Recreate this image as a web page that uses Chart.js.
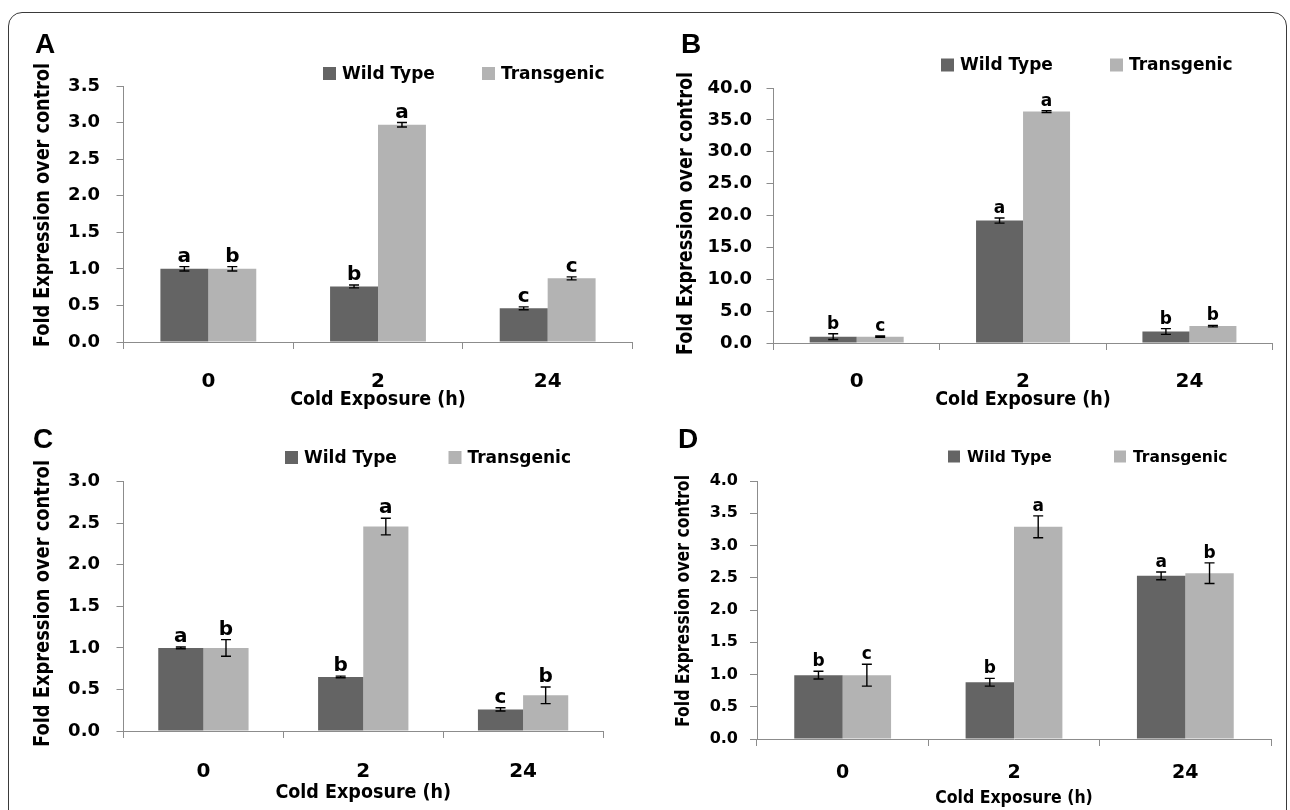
<!DOCTYPE html>
<html>
<head>
<meta charset="utf-8">
<script src="https://cdn.jsdelivr.net/npm/chart.js@4.4.1/dist/chart.umd.min.js"></script>
<style>
html,body{margin:0;padding:0;background:#fff;overflow:hidden;width:1290px;height:810px;}
#frame{position:absolute;left:8px;top:12px;width:1279px;height:840px;border:1.6px solid #3a3a3a;border-radius:14px;box-sizing:border-box;}
canvas{position:absolute;}
</style>
</head>
<body>
<div id="frame"></div>
<canvas id="cA"></canvas>
<canvas id="cB"></canvas>
<canvas id="cC"></canvas>
<canvas id="cD"></canvas>
<script>
const categories = ['0', '2', '24'];
const seriesNames = ['Wild Type', 'Transgenic'];
const yTitle = 'Fold Expression over control';
const xTitle = 'Cold Exposure (h)';

// panel A
const wildA = [1.00, 0.76, 0.46];
const wildErrA = [0.03, 0.02, 0.02];
const transA = [1.00, 2.97, 0.87];
const transErrA = [0.03, 0.03, 0.02];
const wildLetA = ['a', 'b', 'c'];
const transLetA = ['b', 'a', 'c'];
const yMaxA = 3.5, yStepA = 0.5;

// panel B
const wildB = [1.0, 19.2, 1.8];
const wildErrB = [0.45, 0.4, 0.45];
const transB = [1.0, 36.3, 2.65];
const transErrB = [0.1, 0.15, 0.12];
const wildLetB = ['b', 'a', 'b'];
const transLetB = ['c', 'a', 'b'];
const yMaxB = 40, yStepB = 5;

// panel C
const wildC = [1.00, 0.65, 0.26];
const wildErrC = [0.01, 0.01, 0.02];
const transC = [1.00, 2.46, 0.43];
const transErrC = [0.10, 0.10, 0.10];
const wildLetC = ['a', 'b', 'c'];
const transLetC = ['b', 'a', 'b'];
const yMaxC = 3.0, yStepC = 0.5;

// panel D
const wildD = [0.99, 0.88, 2.53];
const wildErrD = [0.06, 0.06, 0.06];
const transD = [0.99, 3.29, 2.57];
const transErrD = [0.17, 0.17, 0.16];
const wildLetD = ['b', 'b', 'a'];
const transLetD = ['c', 'a', 'b'];
const yMaxD = 4.0, yStepD = 0.5;

const WILD = '#646464', TRANS = '#b3b3b3', AXIS = '#8c8c8c', INK = '#000';
const SANS = '"DejaVu Sans", sans-serif';
const COND = '"DejaVu Sans Condensed", "DejaVu Sans", sans-serif';

// layout of each panel in page pixels
const panels = [
  {id:'cA', name:'A', box:[12,15,628,405], plot:[123.5,86,632.5,342],
   wild:wildA, wildErr:wildErrA, trans:transA, transErr:transErrA, wildLet:wildLetA, transLet:transLetA,
   yMax:yMaxA, yStep:yStepA, yTickSize:18, yTickPad:16.5, xTickSize:20, xTickCy:382, xTitleSize:19.5, xTitleCy:400,
   yt:{cx:43, cy:205, size:22, len:284}, legend:{cy:73.5, x:[323,482], size:17, sq:13}, label:{x:35, y:53}, letterSize:20},
  {id:'cB', name:'B', box:[650,15,630,405], plot:[773.5,88,1272.6,343],
   wild:wildB, wildErr:wildErrB, trans:transB, transErr:transErrB, wildLet:wildLetB, transLet:transLetB,
   yMax:yMaxB, yStep:yStepB, yTickSize:18, yTickPad:14.5, xTickSize:20, xTickCy:382, xTitleSize:19.5, xTitleCy:400,
   yt:{cx:686, cy:213.5, size:22, len:283}, legend:{cy:65, x:[941,1110], size:17, sq:13}, label:{x:681, y:53}, letterSize:17},
  {id:'cC', name:'C', box:[12,415,628,395], plot:[123.5,481.7,603,731],
   wild:wildC, wildErr:wildErrC, trans:transC, transErr:transErrC, wildLet:wildLetC, transLet:transLetC,
   yMax:yMaxC, yStep:yStepC, yTickSize:18, yTickPad:16.5, xTickSize:20, xTickCy:772, xTitleSize:19.5, xTitleCy:793,
   yt:{cx:43, cy:603.5, size:22, len:287}, legend:{cy:457.5, x:[285,448.5], size:17, sq:13}, label:{x:33, y:448}, letterSize:20},
  {id:'cD', name:'D', box:[650,415,630,395], plot:[757,481,1271,739],
   wild:wildD, wildErr:wildErrD, trans:transD, transErr:transErrD, wildLet:wildLetD, transLet:transLetD,
   yMax:yMaxD, yStep:yStepD, yTickSize:16, yTickPad:12, xTickSize:19, xTickCy:773, xTitleSize:17.5, xTitleCy:798,
   yt:{cx:684, cy:601, size:19.5, len:252}, legend:{cy:456.5, x:[948,1114], size:15.5, sq:12}, label:{x:678, y:448}, letterSize:17}
];

const extras = {
  id: 'extras',
  afterDatasetsDraw(chart) {
    const p = chart.options.plugins.extras.panel;
    const ox = p.box[0], oy = p.box[1];
    const ctx = chart.ctx, y = chart.scales.y;
    ctx.save();
    // error bars + significance letters
    chart.data.datasets.forEach((ds, i) => {
      chart.getDatasetMeta(i).data.forEach((bar, j) => {
        const top = y.getPixelForValue(ds.data[j] + ds.errors[j]);
        const bot = y.getPixelForValue(ds.data[j] - ds.errors[j]);
        ctx.strokeStyle = INK; ctx.lineWidth = 1.4;
        ctx.beginPath();
        ctx.moveTo(bar.x, top); ctx.lineTo(bar.x, bot);
        ctx.moveTo(bar.x - 5, top); ctx.lineTo(bar.x + 5, top);
        ctx.moveTo(bar.x - 5, bot); ctx.lineTo(bar.x + 5, bot);
        ctx.stroke();
        ctx.fillStyle = INK;
        ctx.font = 'bold ' + p.letterSize + 'px ' + SANS;
        ctx.textAlign = 'center'; ctx.textBaseline = 'alphabetic';
        ctx.fillText(ds.letters[j], bar.x, top - 5);
      });
    });
    // legend
    const lg = p.legend;
    chart.data.datasets.forEach((ds, i) => {
      const sx = lg.x[i] - ox, cy = lg.cy - oy;
      ctx.fillStyle = ds.backgroundColor;
      ctx.fillRect(sx, cy - lg.sq / 2, lg.sq, lg.sq);
      ctx.fillStyle = INK;
      ctx.font = 'bold ' + lg.size + 'px ' + SANS;
      ctx.textAlign = 'left'; ctx.textBaseline = 'middle';
      ctx.fillText(ds.label, sx + 19, cy + 1);
    });
    // panel letter
    ctx.font = 'bold 28px "Liberation Sans", Arial, sans-serif';
    ctx.textAlign = 'left'; ctx.textBaseline = 'alphabetic';
    ctx.fillText(p.name, p.label.x - ox, p.label.y - oy);
    // y axis title, squeezed along its length like the original
    ctx.translate(p.yt.cx - ox, p.yt.cy - oy);
    ctx.rotate(-Math.PI / 2);
    ctx.font = 'bold ' + p.yt.size + 'px ' + COND;
    const k = p.yt.len / ctx.measureText(yTitle).width;
    ctx.scale(Math.min(k, 1), 1);
    ctx.textAlign = 'center'; ctx.textBaseline = 'middle';
    ctx.fillText(yTitle, 0, 0);
    ctx.restore();
  }
};

panels.forEach(p => {
  const [bx, by, bw, bh] = p.box;
  const [L, T, R, B] = p.plot;
  const cv = document.getElementById(p.id);
  cv.width = bw; cv.height = bh;
  cv.style.left = bx + 'px'; cv.style.top = by + 'px';
  cv.style.width = bw + 'px'; cv.style.height = bh + 'px';
  const YW = 80;
  const xTitleLh = p.xTitleSize * 1.2;
  const XH = p.xTitleCy - B + xTitleLh / 2;
  const xTickPad = p.xTickCy - B - 7 - p.xTickSize * 0.6;
  new Chart(cv, {
    type: 'bar',
    data: {
      labels: categories,
      datasets: [
        {label: seriesNames[0], data: p.wild, errors: p.wildErr, letters: p.wildLet, backgroundColor: WILD,
         categoryPercentage: 0.565, barPercentage: 1.0, borderWidth: 0},
        {label: seriesNames[1], data: p.trans, errors: p.transErr, letters: p.transLet, backgroundColor: TRANS,
         categoryPercentage: 0.565, barPercentage: 1.0, borderWidth: 0}
      ]
    },
    options: {
      responsive: false,
      animation: false,
      layout: {padding: {left: L - YW - bx, top: T - by, right: bx + bw - R, bottom: by + bh - B - XH}},
      plugins: {legend: {display: false}, tooltip: {enabled: false}, extras: {panel: p}},
      scales: {
        x: {
          afterFit: s => { s.height = XH; },
          grid: {drawOnChartArea: false, tickLength: 7, color: AXIS, lineWidth: 1},
          border: {color: AXIS, width: 1},
          ticks: {color: INK, padding: xTickPad, font: {family: SANS, size: p.xTickSize, weight: 'bold', lineHeight: 1.2}},
          title: {display: true, text: xTitle, color: INK, padding: 0,
                  font: {family: COND, size: p.xTitleSize, weight: 'bold', lineHeight: 1.2}}
        },
        y: {
          min: 0, max: p.yMax,
          afterFit: s => { s.width = YW; },
          grid: {drawOnChartArea: false, tickLength: 7, color: AXIS, lineWidth: 1},
          border: {color: AXIS, width: 1},
          ticks: {stepSize: p.yStep, autoSkip: false, color: INK, padding: p.yTickPad,
                  font: {family: SANS, size: p.yTickSize, weight: 'bold'},
                  callback: v => Number(v).toFixed(1)}
        }
      }
    },
    plugins: [extras]
  });
});
</script>
</body>
</html>
